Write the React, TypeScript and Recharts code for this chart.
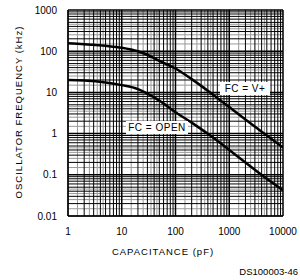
import { LineChart, Line, XAxis, YAxis, ReferenceLine } from "recharts";

// capacitance (pF) and oscillator frequency (kHz)
const capacitance = [1, 2, 5, 10, 20, 30, 50, 100, 200, 500, 1000, 2000, 5000, 10000];
const freqVPlus = [155, 148, 135, 122, 100, 82, 58, 38, 21, 8.8, 4.4, 2.2, 0.9, 0.46];
const freqOpen = [20, 19.5, 17.5, 15, 12, 9.3, 6.3, 3.3, 1.85, 0.8, 0.4, 0.2, 0.08, 0.042];

const xTicks = [1, 10, 100, 1000, 10000];
const yTicks = [0.01, 0.1, 1, 10, 100, 1000];
const multiples = [1, 2, 3, 4, 5, 6, 7, 8, 9];
const halfSteps = [1.5, 2.5, 3.5, 4.5];

const data = capacitance.map((c, i) => ({ c, vplus: freqVPlus[i], open: freqOpen[i] }));

const gridX = xTicks.slice(0, -1).flatMap((d) => multiples.map((m) => d * m));
const gridXMinor = xTicks.slice(0, -1).flatMap((d) => halfSteps.map((m) => d * m));
const gridY = yTicks.slice(0, -1).flatMap((d) => multiples.map((m) => d * m));
const gridYMinor = yTicks.slice(0, -1).flatMap((d) => halfSteps.map((m) => d * m));

const font = "'Liberation Sans', Arial, sans-serif";

const boxLabel = {
  position: "absolute" as const,
  height: 13,
  background: "#fff",
  fontSize: 10,
  lineHeight: "13px",
  textAlign: "center" as const,
  letterSpacing: 0.5,
  whiteSpace: "nowrap" as const,
};

const App = () => (
  <div style={{ position: "absolute", left: 0, top: 0, width: 300, height: 280, background: "#fff", fontFamily: font }}>
    <LineChart width={300} height={280} data={data} margin={{ top: 10, right: 17, bottom: 0, left: 0 }}>
      <XAxis
        dataKey="c"
        type="number"
        scale="log"
        domain={[1, 10000]}
        ticks={xTicks}
        allowDataOverflow
        height={64}
        tickLine={false}
        axisLine={{ stroke: "#000" }}
        tick={{ fontSize: 10, fill: "#000", fontFamily: font }}
        tickMargin={6}
      />
      <YAxis
        type="number"
        scale="log"
        domain={[0.01, 1000]}
        ticks={yTicks}
        allowDataOverflow
        width={68}
        tickLine={false}
        axisLine={{ stroke: "#000" }}
        tick={{ fontSize: 10, fill: "#000", fontFamily: font }}
        tickMargin={5}
      />
      {gridXMinor.map((v) => (
        <ReferenceLine key={`xm${v}`} x={v} stroke="#999" strokeWidth={1} />
      ))}
      {gridYMinor.map((v) => (
        <ReferenceLine key={`ym${v}`} y={v} stroke="#999" strokeWidth={1} />
      ))}
      {gridX.map((v) => (
        <ReferenceLine key={`x${v}`} x={v} stroke="#000" strokeWidth={xTicks.includes(v) ? 1.5 : 1} />
      ))}
      {gridY.map((v) => (
        <ReferenceLine key={`y${v}`} y={v} stroke="#000" strokeWidth={yTicks.includes(v) ? 1.5 : 1} />
      ))}
      <ReferenceLine x={10000} stroke="#000" strokeWidth={1.5} />
      <ReferenceLine y={1000} stroke="#000" strokeWidth={1.5} />
      <Line dataKey="vplus" type="monotone" stroke="#000" strokeWidth={2.5} dot={false} isAnimationActive={false} />
      <Line dataKey="open" type="monotone" stroke="#000" strokeWidth={2.5} dot={false} isAnimationActive={false} />
    </LineChart>
    <div style={{ ...boxLabel, left: 220, top: 82, width: 50 }}>FC = V+</div>
    <div style={{ ...boxLabel, left: 126, top: 121, width: 62 }}>FC = OPEN</div>
    <div style={{ position: "absolute", left: 18, top: 112, width: 0, height: 0 }}>
      <div style={{ position: "absolute", transform: "translate(-50%, -50%) rotate(-90deg)", whiteSpace: "nowrap", fontSize: 9.5, letterSpacing: 1 }}>
        OSCILLATOR FREQUENCY (kHz)
      </div>
    </div>
    <div style={{ position: "absolute", left: 98, top: 246, width: 130, textAlign: "center", fontSize: 9.5, letterSpacing: 1 }}>
      CAPACITANCE (pF)
    </div>
    <div style={{ position: "absolute", right: 2, top: 266, fontSize: 9.5 }}>DS100003-46</div>
  </div>
);

export default App;
